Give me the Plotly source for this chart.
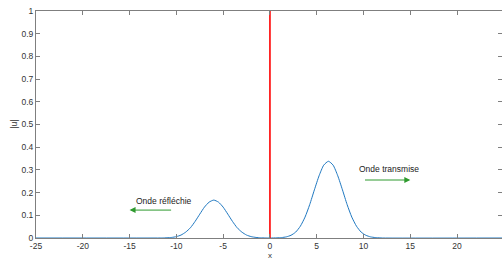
import plotly.graph_objects as go

x_left = [-11.5, -11, -10.5, -10, -9.5, -9, -8.5, -8, -7.5, -7, -6.5, -6,
          -5.5, -5, -4.5, -4, -3.5, -3, -2.5, -2, -1.5, -1, -0.5]
u_left = [0.0003, 0.0009, 0.0025, 0.006, 0.013, 0.026, 0.045, 0.073, 0.105, 0.136, 0.158, 0.167,
          0.158, 0.136, 0.105, 0.073, 0.045, 0.026, 0.013, 0.006, 0.0025, 0.0009, 0.0003]
x_right = [0.75, 1.25, 1.75, 2.25, 2.75, 3.25, 3.75, 4.25, 4.75, 5.25, 5.75, 6.25,
           6.75, 7.25, 7.75, 8.25, 8.75, 9.25, 9.75, 10.25, 10.75, 11.25, 11.75]
u_right = [0.0006, 0.0019, 0.005, 0.012, 0.026, 0.052, 0.092, 0.147, 0.212, 0.274, 0.321, 0.338,
           0.321, 0.274, 0.212, 0.147, 0.092, 0.052, 0.026, 0.012, 0.005, 0.0019, 0.0006]

x_vals = [-25, -12] + x_left + [0] + x_right + [12, 25]
u_vals = [0, 0] + u_left + [0] + u_right + [0, 0]

interface_x = [0, 0]
interface_y = [0, 1]

x_ticks = [-25, -20, -15, -10, -5, 0, 5, 10, 15, 20, 25]
y_ticks = [0, 0.1, 0.2, 0.3, 0.4, 0.5, 0.6, 0.7, 0.8, 0.9, 1]
y_tick_labels = ["0", "0.1", "0.2", "0.3", "0.4", "0.5", "0.6", "0.7", "0.8", "0.9", "1"]

label_reflected = "Onde réfléchie"
label_transmitted = "Onde transmise"

FONT = "Liberation Sans, Arial, sans-serif"
AX = "#7f7f7f"

fig = go.Figure()
fig.add_trace(go.Scatter(x=x_vals, y=u_vals, mode="lines",
                         line=dict(color="#1f78c1", width=1, shape="spline", smoothing=0.6),
                         hoverinfo="skip", cliponaxis=False))
fig.add_trace(go.Scatter(x=interface_x, y=interface_y, mode="lines",
                         line=dict(color="#ff0000", width=1.6), hoverinfo="skip"))

axis_common = dict(showgrid=False, zeroline=False, showline=True, linecolor=AX, linewidth=1,
                   mirror="ticks", ticks="inside", ticklen=4, tickcolor=AX, tickwidth=1,
                   ticklabeloverflow="allow",
                   tickfont=dict(family=FONT, size=8.5, color="#333333"))

fig.update_xaxes(range=[-25, 24.8], tickvals=x_ticks, ticktext=[str(t) for t in x_ticks],
                 **axis_common)
fig.update_yaxes(range=[0, 1], tickvals=y_ticks, ticktext=y_tick_labels, **axis_common)

green = "#2e9a2e"
fig.add_annotation(x=-15.0, y=0.123, ax=-10.4, ay=0.123, axref="x", ayref="y", xref="x", yref="y",
                   text="", showarrow=True, arrowhead=2, arrowsize=1.2, arrowwidth=1,
                   arrowcolor=green)
fig.add_annotation(x=15.0, y=0.2555, ax=10.0, ay=0.2555, axref="x", ayref="y", xref="x", yref="y",
                   text="", showarrow=True, arrowhead=2, arrowsize=1.2, arrowwidth=1,
                   arrowcolor=green)
fig.add_annotation(x=-11.27, y=0.163, xref="x", yref="y", text=label_reflected, showarrow=False,
                   font=dict(family=FONT, size=8.5, color="#222222"))
fig.add_annotation(x=12.73, y=0.305, xref="x", yref="y", text=label_transmitted, showarrow=False,
                   font=dict(family=FONT, size=8.5, color="#222222"))

# axis titles
fig.add_annotation(x=0, y=-0.077, xref="x", yref="paper", yanchor="middle", text="x",
                   showarrow=False, font=dict(family=FONT, size=8, color="#333333"))
fig.add_annotation(x=-0.049, y=0.5, xref="paper", yref="paper", text="|u|", showarrow=False,
                   textangle=-90, xanchor="center", yanchor="middle",
                   font=dict(family=FONT, size=8.5, color="#333333"))

fig.update_layout(width=502, height=259, margin=dict(l=36, r=0, t=11, b=21),
                  paper_bgcolor="white", plot_bgcolor="white", showlegend=False)

# remove the default page margin so the figure sits at the window's top-left corner
fig.write_html("out.html", config={"displayModeBar": False},
               post_script="document.body.style.margin='0';")
